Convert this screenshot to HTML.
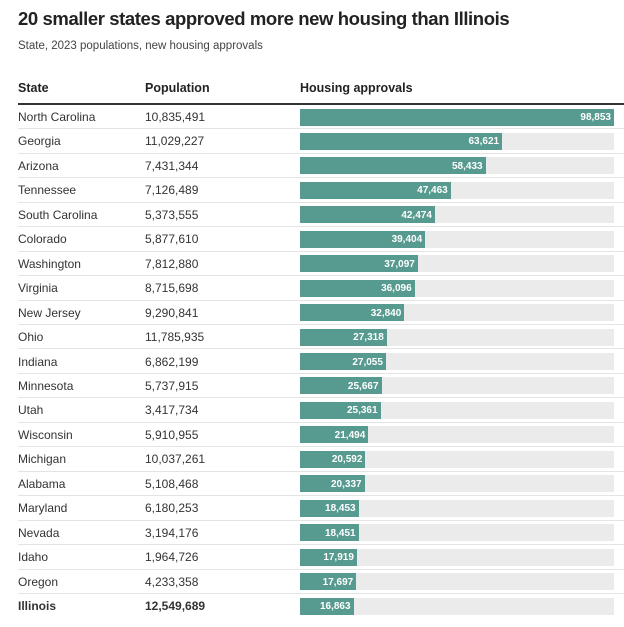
<!DOCTYPE html>
<html><head><meta charset="utf-8"><style>
body{margin:0;width:624px;height:627px;background:#fff;font-family:"Liberation Sans",sans-serif;color:#222;overflow:hidden;position:relative}
.t{position:absolute;white-space:nowrap}
</style></head><body>
<div class="t" style="left:18px;top:8px;font-size:18.5px;font-weight:bold;letter-spacing:-0.4px">20 smaller states approved more new housing than Illinois</div>
<div class="t" style="left:18px;top:40px;font-size:11.5px;color:#444">State, 2023 populations, new housing approvals</div>
<div class="t" style="left:18px;top:81px;font-size:12.5px;font-weight:bold">State</div>
<div class="t" style="left:145px;top:81px;font-size:12.5px;font-weight:bold">Population</div>
<div class="t" style="left:300px;top:81px;font-size:12.5px;font-weight:bold">Housing approvals</div>
<div style="position:absolute;left:18px;top:103px;width:606px;height:2px;background:#333"></div>
<div id="rows"></div>
<script>
const states=["North Carolina","Georgia","Arizona","Tennessee","South Carolina","Colorado","Washington","Virginia","New Jersey","Ohio","Indiana","Minnesota","Utah","Wisconsin","Michigan","Alabama","Maryland","Nevada","Idaho","Oregon","Illinois"];
const populations=[10835491,11029227,7431344,7126489,5373555,5877610,7812880,8715698,9290841,11785935,6862199,5737915,3417734,5910955,10037261,5108468,6180253,3194176,1964726,4233358,12549689];
const approvals=[98853,63621,58433,47463,42474,39404,37097,36096,32840,27318,27055,25667,25361,21494,20592,20337,18453,18451,17919,17697,16863];
const maxV=98853;
const x0=300,W=314,y0=105,pitch=24.45;
function xs(v){return v/maxV*W;}
const root=document.getElementById('rows');
const fmt=n=>n.toLocaleString('en-US');
states.forEach((s,i)=>{
  const top=y0+i*pitch;
  const bold=s==="Illinois";
  const r=document.createElement('div');
  
  
  r.style.cssText=`position:absolute;left:0;top:${top}px;width:624px;height:${pitch}px`;
  r.innerHTML=`<div class="t" style="left:18px;top:5px;font-size:12px;color:#333;${bold?'font-weight:bold':''}">${s}</div>
  <div class="t" style="left:145px;top:5px;font-size:12px;color:#333;${bold?'font-weight:bold':''}">${fmt(populations[i])}</div>
  <div style="position:absolute;left:${x0}px;top:3.5px;width:${W}px;height:17px;background:#ebebeb"></div>
  <div class="bar" style="position:absolute;left:${x0}px;top:3.5px;width:${xs(approvals[i])}px;height:17px;background:#579a8f"></div>
  <div class="t" style="left:${x0}px;width:${xs(approvals[i])-3}px;top:4px;height:17px;line-height:17px;text-align:right;color:#fff;font-size:10px;font-weight:bold">${fmt(approvals[i])}</div>
  ${i<states.length-1?'<div style="position:absolute;left:18px;top:'+(pitch-1)+'px;width:606px;height:1px;background:#e4e4e4"></div>':''}`;
  root.appendChild(r);
  const b=r.querySelector('.bar');
  
  
});
</script>
</body></html>
